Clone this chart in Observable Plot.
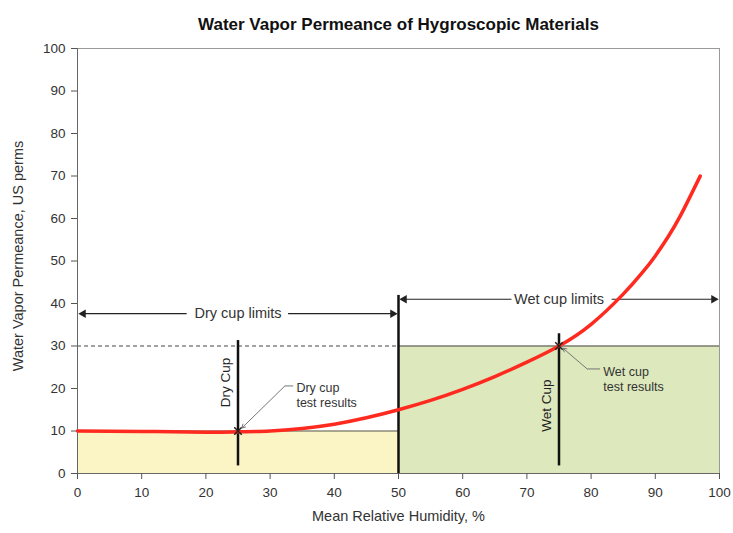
<!DOCTYPE html>
<html>
<head>
<meta charset="utf-8">
<script src="https://cdn.jsdelivr.net/npm/d3@7"></script>
<script src="https://cdn.jsdelivr.net/npm/@observablehq/plot@0.6"></script>
<style>
  body { margin: 0; background: #fff; }
  svg { font-family: "Liberation Sans", Arial, sans-serif; }
</style>
</head>
<body>
<div id="chart"></div>
<script>
// ---- data ----
const titleText = "Water Vapor Permeance of Hygroscopic Materials";
const xLabel = "Mean Relative Humidity, %";
const yLabel = "Water Vapor Permeance, US perms";
const xTicks = [0, 10, 20, 30, 40, 50, 60, 70, 80, 90, 100];
const yTicks = [0, 10, 20, 30, 40, 50, 60, 70, 80, 90, 100];

// permeance curve
const rhCurve   = [0, 10, 20, 25, 30, 35, 40, 45, 50, 55, 60, 65, 70, 75, 80, 85, 88, 90, 92, 94, 97];
const permCurve = [10, 9.9, 9.7, 9.8, 10.0, 10.6, 11.6, 13.1, 15, 17.2, 19.8, 22.8, 26.2, 30, 35.1, 42.2, 47.3, 51.2, 55.7, 60.9, 70];

// test regions
const regionNames = ["Dry cup", "Wet cup"];
const regionStart = [0, 50];
const regionEnd   = [50, 100];
const regionTop   = [10, 30];
const regionFill  = ["#fbf4c4", "#dde8bd"];

// limit arrows
const limitLabels = ["Dry cup limits", "Wet cup limits"];
const limitLevel  = [37.6, 41];
const limitTextLo = [17.0, 67.6];
const limitTextHi = [32.8, 83.2];

// test points
const testRH    = [25, 75];
const testPerm  = [10, 30];
const testTop   = [31.4, 33];
const testBot   = [1.9, 1.9];
const testNames = ["Dry Cup", "Wet Cup"];
const testNameY = [21.4, 16];
const resultText = ["Dry cup\ntest results", "Wet cup\ntest results"];
const resultX = [34.1, 81.9];
const resultY = [18.6, 22.4];

const dividerRH = 50;
const dividerTop = 41.9;

// ---- build tables ----
const curve = rhCurve.map((x, i) => ({x, y: permCurve[i]}));
const regions = regionNames.map((n, i) => ({n, x1: regionStart[i], x2: regionEnd[i], y: regionTop[i], fill: regionFill[i]}));
const limits = limitLabels.map((t, i) => ({t, y: limitLevel[i], x1: regionStart[i], x2: regionEnd[i], lo: limitTextLo[i], hi: limitTextHi[i], mid: (regionStart[i] + regionEnd[i]) / 2}));
const tests = testNames.map((n, i) => ({n, x: testRH[i], y: testPerm[i], top: testTop[i], bot: testBot[i], ny: testNameY[i], rt: resultText[i], rx: resultX[i], ry: resultY[i]}));

const leftArrowSegs = limits.map(d => ({x1: d.lo, x2: d.x1 + 1.0, y: d.y}));
const rightArrowSegs = limits.map(d => ({x1: d.hi, x2: d.x2 - 1.0, y: d.y}));
const headsL = limits.map(d => ({x: d.x1 + 0.9, y: d.y}));
const headsR = limits.map(d => ({x: d.x2 - 0.9, y: d.y}));

// leader lines (result text -> test point)
const leaders = [
  {x1: 32.3, y1: 20.6, x2: 25.6, y2: 10.7, hx: 33.6},
  {x1: 79.4, y1: 24.6, x2: 75.6, y2: 29.5, hx: 81.4}
];

const chart = Plot.plot({
  width: 733,
  height: 533,
  marginTop: 48,
  marginLeft: 77,
  marginRight: 14,
  marginBottom: 60,
  style: {fontFamily: "Liberation Sans, Arial, sans-serif", background: "#fff"},
  x: {domain: [0, 100], ticks: xTicks},
  y: {domain: [0, 100], ticks: yTicks},
  marks: [
    // region fills
    Plot.rect(regions, {x1: "x1", x2: "x2", y1: 0, y2: "y", fill: "fill"}),
    // y=10 line top of dry region
    Plot.ruleY([regionTop[0]], {x1: 0, x2: 50, stroke: "#555", strokeWidth: 1}),
    // y=30 solid (wet) and dashed (dry side)
    Plot.ruleY([regionTop[1]], {x1: 50, x2: 100, stroke: "#444", strokeWidth: 1.2}),
    Plot.ruleY([regionTop[1]], {x1: 0, x2: 50, stroke: "#444", strokeWidth: 1, strokeDasharray: "4,3"}),
    // frame
    Plot.frame({stroke: "#999", strokeWidth: 1}),
    Plot.ruleX([0], {stroke: "#666"}),
    Plot.ruleY([0], {stroke: "#666"}),
    // axes
    Plot.axisX({ticks: xTicks, tickSize: 6, tickPadding: 8, fontSize: 13.5, label: null, stroke: "#555", color: "#333"}),
    Plot.axisY({ticks: yTicks, tickSize: 6, tickPadding: 6, fontSize: 13.5, label: null, stroke: "#555", color: "#333"}),
    // divider at 50%
    Plot.ruleX([dividerRH], {y1: 0, y2: dividerTop, stroke: "#111", strokeWidth: 2.5}),
    // limit arrows
    Plot.link(leftArrowSegs, {x1: "x1", x2: "x2", y1: "y", y2: "y", stroke: "#222", strokeWidth: 1.2}),
    Plot.link(rightArrowSegs, {x1: "x1", x2: "x2", y1: "y", y2: "y", stroke: "#222", strokeWidth: 1.2}),
    Plot.dot(headsL, {x: "x", y: "y", symbol: "triangle", r: 3.2, fill: "#222", rotate: -90}),
    Plot.dot(headsR, {x: "x", y: "y", symbol: "triangle", r: 3.2, fill: "#222", rotate: 90}),
    Plot.text(limits, {x: "mid", y: "y", text: "t", fontSize: 14.5, fill: "#333"}),
    // test verticals
    Plot.link(tests, {x1: "x", x2: "x", y1: "bot", y2: "top", stroke: "#111", strokeWidth: 2.5}),
    Plot.text(tests, {x: "x", y: "ny", text: "n", rotate: -90, dx: -12, fontSize: 13.5, fill: "#222"}),
    // curve
    Plot.line(curve, {x: "x", y: "y", stroke: "#ff2a1f", strokeWidth: 3.5, curve: "natural"}),
    // test point markers
    Plot.dot(tests, {x: "x", y: "y", symbol: "times", r: 3.5, stroke: "#222", strokeWidth: 1.5}),
    // leaders
    Plot.link(leaders, {x1: "hx", x2: "x1", y1: "y1", y2: "y1", stroke: "#777", strokeWidth: 1}),
    Plot.arrow(leaders, {x1: "x1", y1: "y1", x2: "x2", y2: "y2", stroke: "#777", strokeWidth: 1, headLength: 6, bend: false}),
    Plot.text(tests, {x: "rx", y: "ry", text: "rt", textAnchor: "start", fontSize: 12.5, lineHeight: 1.2, fill: "#333"}),
    // titles
    Plot.text([titleText], {frameAnchor: "top", dy: -31, fontSize: 17, fontWeight: "bold", fill: "#111"}),
    Plot.text([xLabel], {frameAnchor: "bottom", dy: 47, fontSize: 14.5, fill: "#333"}),
    Plot.text([yLabel], {frameAnchor: "left", textAnchor: "middle", dx: -59, dy: -5, rotate: -90, fontSize: 14.5, fill: "#333"})
  ]
});
document.getElementById("chart").appendChild(chart);
</script>
</body>
</html>
